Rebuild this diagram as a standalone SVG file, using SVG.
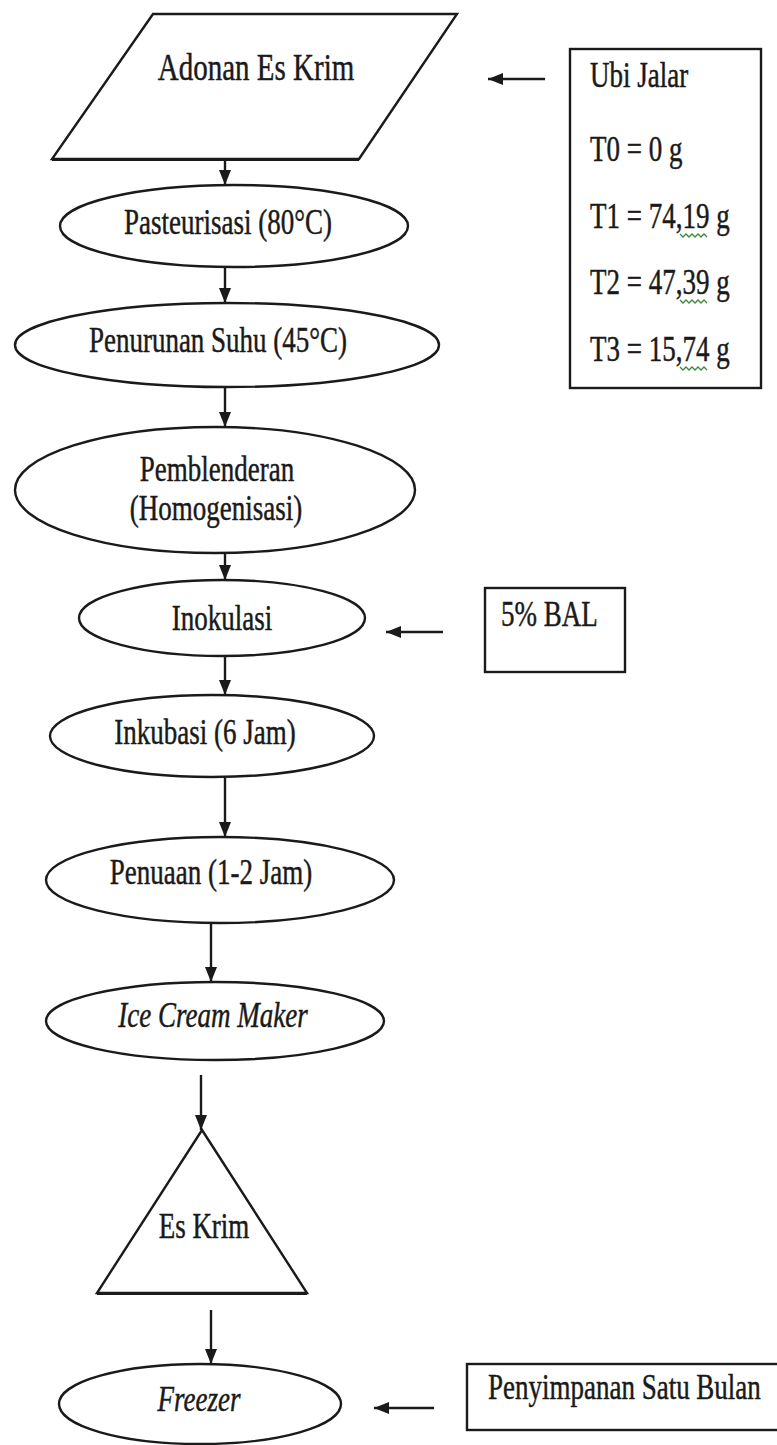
<svg xmlns="http://www.w3.org/2000/svg" width="777" height="1445" viewBox="0 0 777 1445">
<style>
.s{fill:#fff;stroke:#1a1a1a;stroke-width:2.4}
.t{font-family:"Liberation Serif","Times New Roman",serif;font-size:27px;fill:#1a1a1a;stroke:#1a1a1a;stroke-width:0.35}
.m{text-anchor:middle}
.i{font-style:italic}
.c{stroke:#1a1a1a;stroke-width:2.4;fill:none}
.w{stroke:#3d8a3d;stroke-width:1.3;fill:none}
</style>
<defs>
<marker id="ah" markerUnits="userSpaceOnUse" markerWidth="15" markerHeight="12" refX="15" refY="6" orient="auto">
<path d="M0,0 L15,6 L0,12 z" fill="#1a1a1a"/>
</marker>
</defs>
<rect width="777" height="1445" fill="#fff"/>
<g id="connectors">
<line class="c" x1="225" y1="160" x2="225" y2="185" marker-end="url(#ah)"/>
<line class="c" x1="545" y1="79" x2="488" y2="79" marker-end="url(#ah)"/>
<line class="c" x1="225" y1="267" x2="225" y2="303" marker-end="url(#ah)"/>
<line class="c" x1="225" y1="388" x2="225" y2="427" marker-end="url(#ah)"/>
<line class="c" x1="225" y1="553" x2="225" y2="580" marker-end="url(#ah)"/>
<line class="c" x1="443" y1="632" x2="386" y2="632" marker-end="url(#ah)"/>
<line class="c" x1="225" y1="657" x2="225" y2="695" marker-end="url(#ah)"/>
<line class="c" x1="225" y1="777" x2="225" y2="837" marker-end="url(#ah)"/>
<line class="c" x1="211" y1="923" x2="211" y2="982" marker-end="url(#ah)"/>
<line class="c" x1="201" y1="1075" x2="201" y2="1130" marker-end="url(#ah)"/>
<line class="c" x1="211" y1="1310" x2="211" y2="1364" marker-end="url(#ah)"/>
<line class="c" x1="434" y1="1408" x2="374" y2="1408" marker-end="url(#ah)"/>
</g>
<g id="adonan">
<polygon class="s" points="153,14 457,14 359,159 52,159"/>
<line x1="52" y1="159.5" x2="359" y2="159.5" stroke="#1a1a1a" stroke-width="3.2"/>
<text class="t m" style="font-size:29px" transform="matrix(1,0,0,1.3,256,80)">Adonan Es Krim</text>
</g>
<g id="ubijalar">
<rect class="s" x="570" y="49" width="191" height="339"/>
<text class="t" transform="matrix(1,0,0,1.3,590,87)">Ubi Jalar</text>
<text class="t" transform="matrix(1,0,0,1.3,590,161)">T0 = 0 g</text>
<text class="t" transform="matrix(1,0,0,1.3,590,228)">T1 = 74,19 g</text>
<text class="t" transform="matrix(1,0,0,1.3,590,294)">T2 = 47,39 g</text>
<text class="t" transform="matrix(1,0,0,1.3,590,361)">T3 = 15,74 g</text>
<path class="w" d="M680,234 l3,3 l3,-3 l3,3 l3,-3 l3,3 l3,-3 l3,3 l3,-3 l3,3"/>
<path class="w" d="M680,300 l3,3 l3,-3 l3,3 l3,-3 l3,3 l3,-3 l3,3 l3,-3 l3,3"/>
<path class="w" d="M680,367 l3,3 l3,-3 l3,3 l3,-3 l3,3 l3,-3 l3,3 l3,-3 l3,3"/>
</g>
<g id="pasteurisasi">
<ellipse class="s" cx="234" cy="226" rx="174" ry="41"/>
<text class="t m" transform="matrix(1,0,0,1.3,228,234)">Pasteurisasi (80°C)</text>
</g>
<g id="penurunan">
<ellipse class="s" cx="227" cy="345" rx="212" ry="42"/>
<text class="t m" transform="matrix(1,0,0,1.3,218,352)">Penurunan Suhu (45°C)</text>
</g>
<g id="pemblenderan">
<ellipse class="s" cx="215" cy="490" rx="200" ry="63"/>
<text class="t m" transform="matrix(1,0,0,1.3,217,481)">Pemblenderan</text>
<text class="t m" transform="matrix(1,0,0,1.3,216,520)">(Homogenisasi)</text>
</g>
<g id="inokulasi">
<ellipse class="s" cx="222" cy="618" rx="143" ry="38"/>
<text class="t m" transform="matrix(1,0,0,1.3,222,630)">Inokulasi</text>
</g>
<g id="bal">
<rect class="s" x="485" y="588" width="140" height="84"/>
<text class="t" transform="matrix(1,0,0,1.3,501,626)">5% BAL</text>
</g>
<g id="inkubasi">
<ellipse class="s" cx="212" cy="736" rx="162" ry="41"/>
<text class="t m" transform="matrix(1,0,0,1.3,205,744)">Inkubasi (6 Jam)</text>
</g>
<g id="penuaan">
<ellipse class="s" cx="220" cy="880" rx="174" ry="43"/>
<text class="t m" transform="matrix(1,0,0,1.3,211,884)">Penuaan (1-2 Jam)</text>
</g>
<g id="icecreammaker">
<ellipse class="s" cx="215" cy="1021" rx="169" ry="39"/>
<text class="t m i" transform="matrix(1,0,0,1.3,213,1027)">Ice Cream Maker</text>
</g>
<g id="eskrim">
<polygon class="s" points="202,1130 307,1293 97,1293"/>
<line x1="97" y1="1293.5" x2="307" y2="1293.5" stroke="#1a1a1a" stroke-width="3.2"/>
<text class="t m" transform="matrix(1,0,0,1.3,204,1238)">Es Krim</text>
</g>
<g id="freezer">
<ellipse class="s" cx="200" cy="1404" rx="141" ry="40"/>
<text class="t m i" transform="matrix(1,0,0,1.3,199,1411)">Freezer</text>
</g>
<g id="penyimpanan">
<rect class="s" x="467" y="1364" width="312" height="66"/>
<text class="t" transform="matrix(1,0,0,1.3,488,1399)">Penyimpanan Satu Bulan</text>
</g>
</svg>
